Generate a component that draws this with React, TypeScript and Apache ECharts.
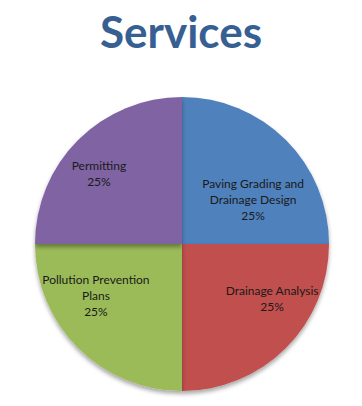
import React, { useEffect, useRef } from "react";
import * as echarts from "echarts";

const titleText = "Services";
const categories = [
  "Paving Grading and\nDrainage Design",
  "Drainage Analysis",
  "Pollution Prevention\nPlans",
  "Permitting",
];
const values = [25, 25, 25, 25];
const colors = ["#4F81BD", "#C0504D", "#9BBB59", "#8064A2"];
const labelShifts = [
  [17, 10],
  [36, 0],
  [-32, -3],
  [-29, -16],
];

export default function App() {
  const ref = useRef<HTMLDivElement>(null);
  useEffect(() => {
    document.body.style.margin = "0";
    const chart = echarts.init(ref.current!, null, { renderer: "svg" });
    chart.setOption({
      animation: false,
      backgroundColor: "#ffffff",
      title: {
        text: titleText,
        left: "center",
        top: 4,
        textStyle: {
          fontFamily: "Lato",
          fontWeight: "bold",
          fontSize: 44,
          color: "#376092",
        },
      },
      series: [
        {
          type: "pie",
          center: [182, 244],
          radius: 147,
          startAngle: 90,
          clockwise: true,
          label: {
            show: true,
            position: "inside",
            formatter: (p: any) => `${p.name}\n${Math.round(p.percent)}%`,
            fontFamily: "Lato",
            fontSize: 12,
            lineHeight: 16,
            color: "#1a1a1a",
          },
          labelLine: { show: false },
          labelLayout: (p: any) => ({
            dx: labelShifts[p.dataIndex][0],
            dy: labelShifts[p.dataIndex][1],
          }),
          itemStyle: {
            borderWidth: 0,
            shadowColor: "rgba(0,0,0,0.35)",
            shadowBlur: 4,
            shadowOffsetY: 3,
          },
          emphasis: { disabled: true },
          data: categories.map((c, i) => ({
            name: c,
            value: values[i],
            itemStyle: { color: colors[i] },
          })),
        },
      ],
    });
    return () => chart.dispose();
  }, []);
  return (
    <div
      ref={ref}
      style={{ width: 362, height: 406, position: "absolute", left: 0, top: 0 }}
    />
  );
}
